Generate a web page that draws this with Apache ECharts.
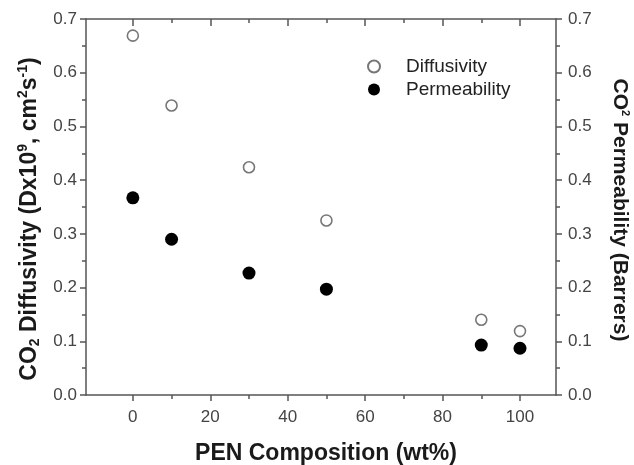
<!DOCTYPE html>
<html><head><meta charset="utf-8">
<script src="https://cdn.jsdelivr.net/npm/echarts@6/dist/echarts.min.js"></script>
<style>html,body{margin:0;padding:0;background:#fff}#c{width:634px;height:465px}</style>
</head><body><div id="c"></div>
<script>
const composition = [0, 10, 30, 50, 90, 100];
const diffusivity = [0.669, 0.539, 0.424, 0.325, 0.140, 0.119];
const permeability = [0.367, 0.290, 0.227, 0.197, 0.093, 0.087];
const xMajorTicks = [0, 20, 40, 60, 80, 100];
const xMinorTicks = [10, 30, 50, 70, 90];

const FONT = 'Liberation Sans, Arial, sans-serif';
const AX = '#555';
const chart = echarts.init(document.getElementById('c'), null, {renderer: 'canvas'});
const base = {type: 'value', min: -12.1, max: 109.3, splitLine: {show: false}};
const xAxes = [
  Object.assign({}, base, {position: 'bottom',
    axisLine: {show: true, onZero: false, lineStyle: {color: AX, width: 1.5}},
    axisTick: {show: true, customValues: xMajorTicks, length: 6, lineStyle: {color: AX, width: 1.5}},
    axisLabel: {show: true, customValues: xMajorTicks, color: '#444', fontSize: 17, fontFamily: FONT, margin: 14},
    name: 'PEN Composition (wt%)', nameLocation: 'middle', nameGap: 47,
    nameTextStyle: {fontSize: 23, fontWeight: 'bold', color: '#1a1a1a', fontFamily: FONT, padding: [0, 0, 0, 10]}}),
  Object.assign({}, base, {position: 'bottom',
    axisLine: {show: false, onZero: false},
    axisTick: {show: true, customValues: xMinorTicks, length: 4, lineStyle: {color: AX, width: 1.5}},
    axisLabel: {show: false}}),
  Object.assign({}, base, {position: 'top',
    axisLine: {show: true, onZero: false, lineStyle: {color: AX, width: 1.5}},
    axisTick: {show: true, inside: true, customValues: xMajorTicks, length: 7, lineStyle: {color: AX, width: 1.5}},
    axisLabel: {show: false}}),
  Object.assign({}, base, {position: 'top',
    axisLine: {show: false, onZero: false},
    axisTick: {show: true, inside: true, customValues: xMinorTicks, length: 4, lineStyle: {color: AX, width: 1.5}},
    axisLabel: {show: false}})
];
const yBase = {type: 'value', min: 0, max: 0.7, interval: 0.1, splitLine: {show: false},
  axisLine: {show: true, onZero: false, lineStyle: {color: AX, width: 1.5}},
  axisTick: {show: true, length: 6, lineStyle: {color: AX, width: 1.5}},
  minorTick: {show: true, splitNumber: 2, length: 4, lineStyle: {color: AX, width: 1.5}},
  axisLabel: {color: '#444', fontSize: 17, fontFamily: FONT, margin: 9, formatter: v => v.toFixed(1)}};
const yAxes = [
  Object.assign({}, yBase, {position: 'left',
    name: 'CO{sub|2} Diffusivity (Dx10{sup|9}, cm{sup|2}s{sup|-1})', nameLocation: 'middle', nameGap: 43, nameRotate: 90,
    nameTextStyle: {fontSize: 23, fontWeight: 'bold', color: '#1a1a1a', fontFamily: FONT, padding: [0, 24, 0, 0],
      rich: {sub: {fontSize: 14, fontWeight: 'bold', fontFamily: FONT, color: '#1a1a1a', padding: [12, 0, 0, 0]},
             sup: {fontSize: 14, fontWeight: 'bold', fontFamily: FONT, color: '#1a1a1a', padding: [0, 0, 12, 0]}}}}),
  Object.assign({}, yBase, {position: 'right',
    axisLabel: Object.assign({}, yBase.axisLabel, {margin: 12}),
    name: 'CO{sup|2} Permeability (Barrers)', nameLocation: 'middle', nameGap: 52, nameRotate: -90,
    nameTextStyle: {fontSize: 21, fontWeight: 'bold', color: '#1a1a1a', fontFamily: FONT, padding: [0, 0, 0, 6],
      rich: {sup: {fontSize: 11, fontWeight: 'bold', fontFamily: FONT, color: '#1a1a1a', padding: [0, 0, 12, 0]}}}})
];
chart.setOption({
  animation: false,
  backgroundColor: '#fff',
  grid: {left: 86, right: 78, top: 19, bottom: 70, containLabel: false, outerBoundsMode: 'none'},
  xAxis: xAxes,
  yAxis: yAxes,
  legend: {orient: 'vertical', left: 367, top: 57, padding: 0, itemWidth: 12, itemHeight: 12, itemGap: 4,
    textStyle: {fontSize: 19, color: '#222', fontFamily: FONT, padding: [0, 0, 0, 21]},
    data: [{name: 'Diffusivity', icon: 'circle'}, {name: 'Permeability', icon: 'circle'}]},
  series: [
    {name: 'Diffusivity', type: 'scatter', xAxisIndex: 0, yAxisIndex: 0, symbol: 'circle', symbolSize: 11,
     itemStyle: {color: '#fff', borderColor: '#777', borderWidth: 1.6, opacity: 1},
     data: composition.map((x, i) => [x, diffusivity[i]])},
    {name: 'Permeability', type: 'scatter', xAxisIndex: 0, yAxisIndex: 1, symbol: 'circle', symbolSize: 13,
     itemStyle: {color: '#000', opacity: 1},
     data: composition.map((x, i) => [x, permeability[i]])}
  ]
});
</script></body></html>
